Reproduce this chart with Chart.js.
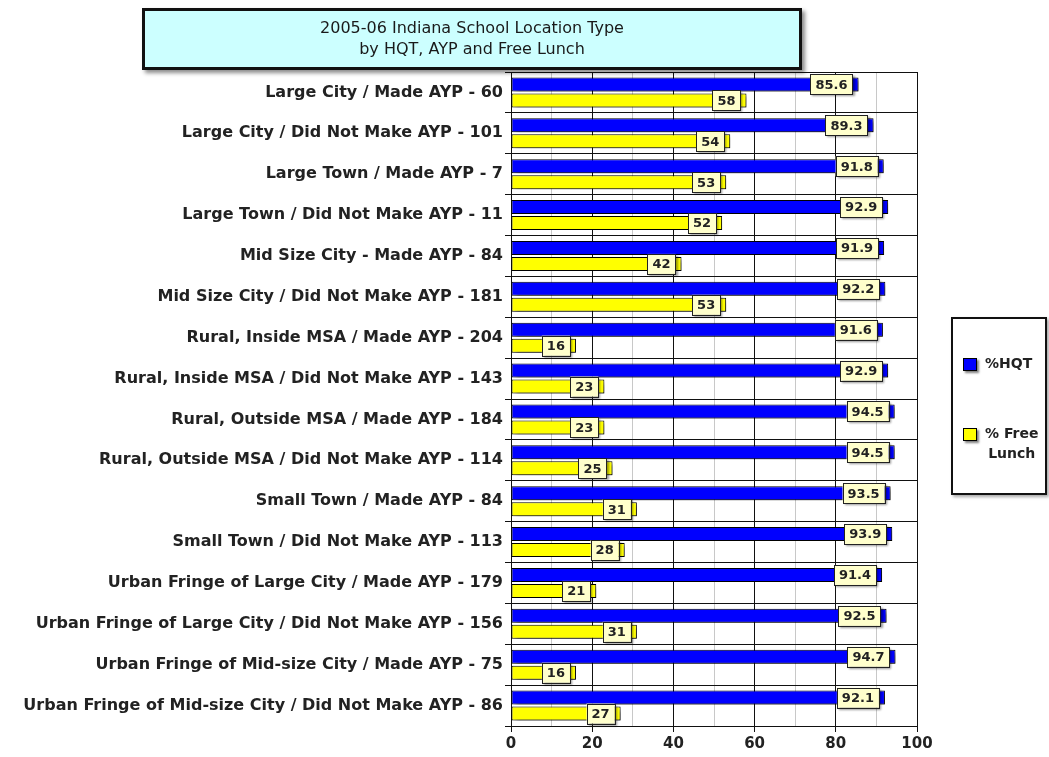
<!DOCTYPE html>
<html>
<head>
<meta charset="utf-8">
<script src="https://cdn.jsdelivr.net/npm/chart.js@4.4.1/dist/chart.umd.min.js"></script>
<style>
    html, body { margin: 0; padding: 0; background: #fff; }
    #wrap { position: relative; width: 1049px; height: 757px; overflow: hidden; font-family: 'DejaVu Sans', sans-serif; }
    #chart { position: absolute; left: 0; top: 0; }
    #title {
        position: absolute; left: 142px; top: 8px; width: 654px; height: 50px;
        background: #ccffff; border: 3px solid #111;
        box-shadow: 3px 3px 4px rgba(0,0,0,0.45);
        text-align: center; font-size: 16px; line-height: 21px; color: #1a1a1a;
        padding-top: 6px;
    }
    #legend {
        position: absolute; left: 951px; top: 317px; width: 92px; height: 174px;
        border: 2px solid #111; background: #fff;
        box-shadow: 2px 2px 3px rgba(0,0,0,0.35);
        font-size: 14px; font-weight: bold; color: #222;
    }
    .item { position: absolute; left: 10px; }
    .sw { position: absolute; left: 0; top: 3px; width: 12px; height: 11px; border: 1px solid #000; box-shadow: 2px 2px 2px rgba(0,0,0,0.5); }
    .txt { position: absolute; left: 22px; line-height: 20px; text-align: center; white-space: nowrap; }
</style>
</head>
<body>
<div id="wrap">
    <canvas id="chart" width="1049" height="757"></canvas>
    <div id="title">2005-06 Indiana School Location Type<br>by HQT, AYP and Free Lunch</div>
    <div id="legend">
        <div class="item" style="top:36px;"><div class="sw" style="background:#0000ff;"></div><div class="txt" style="top:-2px;">%HQT</div></div>
        <div class="item" style="top:106px;"><div class="sw" style="background:#ffff00;"></div><div class="txt" style="top:-2px;">% Free<br>Lunch</div></div>
    </div>
</div>
<script>
    // Datos
    const categories = [
        'Large City / Made AYP - 60',
        'Large City / Did Not Make AYP - 101',
        'Large Town / Made AYP - 7',
        'Large Town / Did Not Make AYP - 11',
        'Mid Size City - Made AYP - 84',
        'Mid Size City / Did Not Make AYP - 181',
        'Rural, Inside MSA / Made AYP - 204',
        'Rural, Inside MSA / Did Not Make AYP - 143',
        'Rural, Outside MSA / Made AYP - 184',
        'Rural, Outside MSA / Did Not Make AYP - 114',
        'Small Town / Made AYP - 84',
        'Small Town / Did Not Make AYP - 113',
        'Urban Fringe of Large City / Made AYP - 179',
        'Urban Fringe of Large City / Did Not Make AYP - 156',
        'Urban Fringe of Mid-size City / Made AYP - 75',
        'Urban Fringe of Mid-size City / Did Not Make AYP - 86'
    ];
    const hqt = [85.6, 89.3, 91.8, 92.9, 91.9, 92.2, 91.6, 92.9, 94.5, 94.5, 93.5, 93.9, 91.4, 92.5, 94.7, 92.1];
    const freeLunch = [58, 54, 53, 52, 42, 53, 16, 23, 23, 25, 31, 28, 21, 31, 16, 27];
    const xTicks = [0, 20, 40, 60, 80, 100];

    Chart.defaults.font.family = "'DejaVu Sans', sans-serif";
    Chart.defaults.color = '#222';

    // Sombra de las barras
    const shadowPlugin = {
        id: 'barShadow',
        beforeDatasetsDraw(chart) {
            const ctx = chart.ctx;
            ctx.save();
            ctx.shadowColor = 'rgba(0,0,0,0.45)';
            ctx.shadowOffsetX = 3;
            ctx.shadowOffsetY = 3;
            ctx.shadowBlur = 3;
        },
        afterDatasetsDraw(chart) {
            chart.ctx.restore();
        }
    };

    // Etiquetas con caja al final de cada barra
    const labelPlugin = {
        id: 'valueBoxes',
        afterDatasetsDraw(chart) {
            const ctx = chart.ctx;
            ctx.save();
            ctx.font = 'bold 13px "DejaVu Sans"';
            ctx.textAlign = 'center';
            ctx.textBaseline = 'middle';
            chart.data.datasets.forEach((ds, di) => {
                const meta = chart.getDatasetMeta(di);
                meta.data.forEach((bar, i) => {
                    const text = String(ds.data[i]);
                    const w = ctx.measureText(text).width + 10;
                    const h = 20;
                    const right = bar.x - 6;
                    const left = right - w;
                    const top = bar.y - h / 2;
                    ctx.save();
                    ctx.shadowColor = 'rgba(0,0,0,0.4)';
                    ctx.shadowOffsetX = 2;
                    ctx.shadowOffsetY = 2;
                    ctx.shadowBlur = 2;
                    ctx.fillStyle = '#ffffcc';
                    ctx.fillRect(left, top, w, h);
                    ctx.restore();
                    ctx.strokeStyle = '#222';
                    ctx.lineWidth = 1;
                    ctx.strokeRect(Math.round(left) + 0.5, Math.round(top) + 0.5, Math.round(w), h);
                    ctx.fillStyle = '#222';
                    ctx.fillText(text, left + w / 2, bar.y + 1);
                });
            });
            ctx.restore();
        }
    };

    const chart = new Chart(document.getElementById('chart'), {
        type: 'bar',
        data: {
            labels: categories,
            datasets: [
                { label: '%HQT', data: hqt, backgroundColor: '#0000ff', borderColor: '#000', borderWidth: 1, borderSkipped: false },
                { label: '% Free Lunch', data: freeLunch, backgroundColor: '#ffff00', borderColor: '#000', borderWidth: 1, borderSkipped: false }
            ]
        },
        options: {
            indexAxis: 'y',
            responsive: false,
            animation: false,
            layout: { padding: { top: 72, right: 132, bottom: 0, left: 0 } },
            datasets: { bar: { categoryPercentage: 0.78, barPercentage: 0.88 } },
            scales: {
                x: {
                    min: 0, max: 100,
                    ticks: {
                        stepSize: 10,
                        padding: 3,
                        font: { size: 15, weight: 'bold' },
                        callback: (v) => xTicks.includes(v) ? v : ''
                    },
                    grid: {
                        color: (c) => (c.tick && c.tick.value % 20 === 0) ? '#111' : '#c8c8c8',
                        tickColor: (c) => (c.tick && c.tick.value % 20 === 0) ? '#111' : 'rgba(0,0,0,0)',
                        tickLength: 6
                    },
                    border: { color: '#111' },
                    afterFit(scale) { scale.height = 31; }
                },
                y: {
                    ticks: { padding: 2, font: { size: 16, weight: 'bold' }, color: '#222' },
                    grid: { color: '#111', tickLength: 6, offset: true },
                    border: { color: '#111' },
                    afterFit(scale) { scale.width = 511; }
                }
            },
            plugins: {
                legend: { display: false },
                tooltip: { enabled: false }
            }
        },
        plugins: [shadowPlugin, labelPlugin]
    });
</script>
</body>
</html>
